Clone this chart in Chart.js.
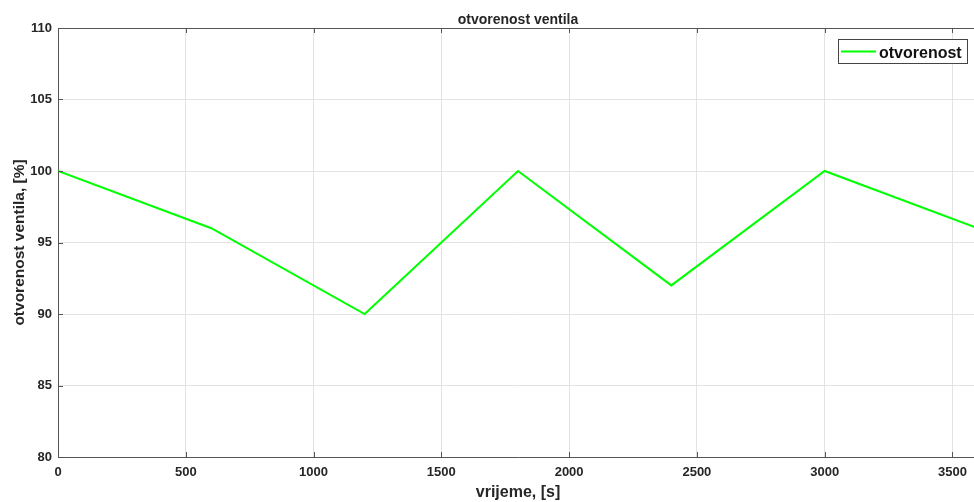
<!DOCTYPE html>
<html>
<head>
<meta charset="utf-8">
<script src="https://cdn.jsdelivr.net/npm/chart.js@4"></script>
<style>
  html, body { margin: 0; padding: 0; background: #fff; overflow: hidden; }
</style>
</head>
<body>
<canvas id="grafico" width="980" height="502"></canvas>
<script>
// podaci
const vrijeme = [0, 600, 1200, 1800, 2400, 3000, 3600];
const otvorenost = [100, 96, 90, 100, 92, 100, 96];
const xTicks = [0, 500, 1000, 1500, 2000, 2500, 3000, 3500];
const yTicks = [80, 85, 90, 95, 100, 105, 110];

const tekst = '#262626';
const osi = '#555555';
const font = 'Liberation Sans, Arial, sans-serif';

// naslov, gornja linija, unutrasnje crtice i legenda
const matlabStil = {
  id: 'matlabStil',
  afterDraw(chart) {
    const c = chart.ctx;
    const a = chart.chartArea;
    const xs = chart.scales.x, ys = chart.scales.y;
    c.save();
    c.strokeStyle = osi;
    c.lineWidth = 1;
    c.beginPath();
    c.moveTo(a.left, a.top + 0.5);
    c.lineTo(a.right, a.top + 0.5);
    xTicks.forEach(v => {
      const px = Math.round(xs.getPixelForValue(v)) + 0.5;
      c.moveTo(px, a.bottom); c.lineTo(px, a.bottom - 5);
      c.moveTo(px, a.top); c.lineTo(px, a.top + 5);
    });
    yTicks.forEach(v => {
      const py = Math.round(ys.getPixelForValue(v)) + 0.5;
      c.moveTo(a.left, py); c.lineTo(a.left + 5, py);
    });
    c.stroke();

    c.fillStyle = tekst;
    c.font = 'bold 14px ' + font;
    c.textAlign = 'center';
    c.textBaseline = 'alphabetic';
    c.fillText('otvorenost ventila', (a.left + a.right) / 2, 24);

    // legenda
    const ds = chart.data.datasets[0];
    const lx = 838, ly = 39, lw = 129, lh = 24;
    c.fillStyle = '#fff';
    c.fillRect(lx, ly, lw, lh);
    c.strokeStyle = '#444';
    c.strokeRect(lx + 0.5, ly + 0.5, lw, lh);
    c.strokeStyle = ds.borderColor;
    c.lineWidth = 2;
    c.beginPath();
    c.moveTo(841, ly + lh / 2 + 0.5);
    c.lineTo(876, ly + lh / 2 + 0.5);
    c.stroke();
    c.fillStyle = '#111';
    c.font = 'bold 16px ' + font;
    c.textAlign = 'left';
    c.fillText(ds.label, 879, 58);
    c.restore();
  }
};

new Chart(document.getElementById('grafico'), {
  type: 'line',
  data: {
    datasets: [{
      label: 'otvorenost',
      data: vrijeme.map((t, i) => ({ x: t, y: otvorenost[i] })),
      borderColor: '#00ff00',
      borderWidth: 2,
      pointRadius: 0,
      tension: 0,
      fill: false
    }]
  },
  options: {
    responsive: false,
    animation: false,
    devicePixelRatio: 1,
    layout: { padding: { top: 28, left: 0, right: 2, bottom: 0 } },
    plugins: {
      legend: { display: false },
      title: { display: false },
      tooltip: { enabled: false }
    },
    scales: {
      x: {
        type: 'linear',
        min: 0,
        max: 3600,
        afterFit(s) { s.height = 45; },
        afterBuildTicks(s) { s.ticks = xTicks.map(v => ({ value: v })); },
        grid: { color: '#e3e3e3', tickLength: 0 },
        border: { color: osi, width: 1 },
        ticks: {
          color: tekst,
          padding: 8,
          maxRotation: 0,
          callback: v => String(v),
          font: { family: font, size: 13, weight: 'bold' }
        },
        title: {
          display: true,
          text: 'vrijeme, [s]',
          color: tekst,
          padding: { top: 0, bottom: 0 },
          font: { family: font, size: 16, weight: 'bold' }
        }
      },
      y: {
        min: 80,
        max: 110,
        afterFit(s) { s.width = 58; },
        afterBuildTicks(s) { s.ticks = yTicks.map(v => ({ value: v })); },
        grid: { color: '#e3e3e3', tickLength: 0 },
        border: { color: osi, width: 1 },
        ticks: {
          color: tekst,
          padding: 6,
          callback: v => String(v),
          font: { family: font, size: 13, weight: 'bold' }
        },
        title: {
          display: true,
          text: 'otvorenost ventila, [%]',
          color: tekst,
          padding: { top: 10, bottom: 0 },
          font: { family: font, size: 15.5, weight: 'bold' }
        }
      }
    }
  },
  plugins: [matlabStil]
});
</script>
</body>
</html>
